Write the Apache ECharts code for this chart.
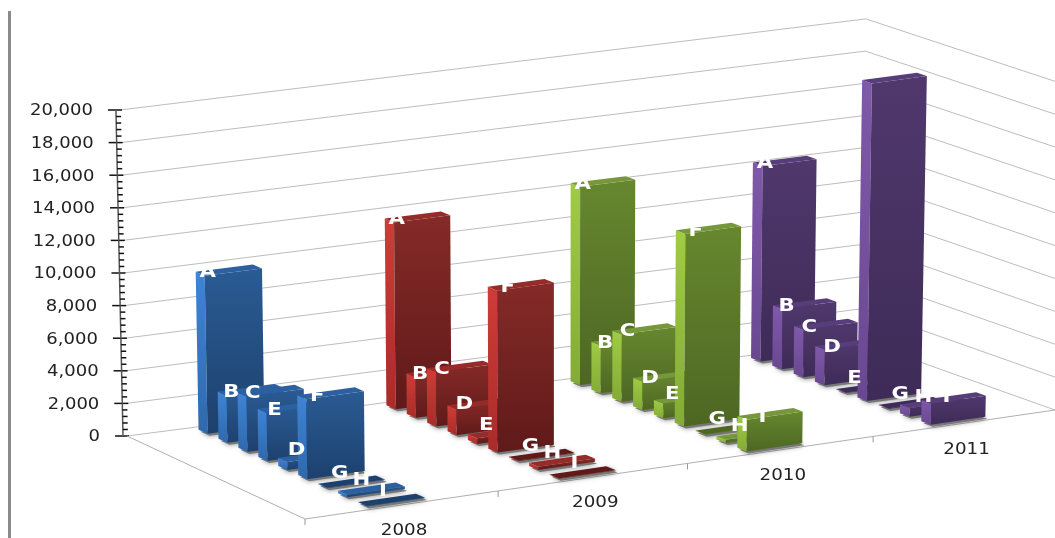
<!DOCTYPE html>
<html>
<head>
<meta charset="utf-8" />
<title>ECharts</title>
<script src="https://cdn.jsdelivr.net/npm/echarts@6/dist/echarts.min.js"></script>
<style>html,body{margin:0;padding:0;background:#fff}#main{width:1055px;height:538px}</style>
</head>
<body>
<div id="main"></div>
<script>
const years = ['2008', '2009', '2010', '2011'];
const yTicks = [0, 2000, 4000, 6000, 8000, 10000, 12000, 14000, 16000, 18000, 20000];
// labels, back row to front row (the tall 2011 F has no letter showing)
const labels2008 = ['A', 'B', 'C', 'E', 'D', 'F', 'G', 'H', 'I'];
const labels2009 = ['A', 'B', 'C', 'D', 'E', 'F', 'G', 'H', 'I'];
const labels2010 = ['A', 'B', 'C', 'D', 'E', 'F', 'G', 'H', 'I'];
const labels2011 = ['A', 'B', 'C', 'D', 'E', '', 'G', 'H', 'I'];
const values2008 = [9700, 2900, 3400, 2950, 500, 4900, 30, 150, 20];
const values2009 = [11500, 2500, 3350, 1600, 350, 9950, 40, 200, 20];
const values2010 = [12250, 2950, 4150, 1750, 900, 11850, 40, 200, 1950];
const values2011 = [12100, 3750, 2950, 2200, 40, 19550, 40, 550, 1300];

const allValues = [values2008, values2009, values2010, values2011];
const allLabels = [labels2008, labels2009, labels2010, labels2011];

const palette = [
    {front: ['#2a5b94', '#1d416e'], side: ['#3f84d6', '#2f69ad'], top: '#2c60a0'},
    {front: ['#852a28', '#5f1a19'], side: ['#cf3c38', '#a82c29'], top: '#962c2a'},
    {front: ['#67872f', '#4d6723'], side: ['#a0cb45', '#83ab36'], top: '#76983a'},
    {front: ['#50386d', '#3e2b57'], side: ['#8059aa', '#694891'], top: '#583d7b'}
];

// floor corners of the 3D box on screen
const backLeft = [127, 436], backRight = [861, 341], frontLeft = [305, 519], frontRight = [1055, 410];
const gridTop = 110, gridH = 326;
const leanCentre = 560, leanK = 5e-5;

// u: 0..1 along years, v: 0..1 back to front
function floor(u, v) {
    const s = u + 0.04 * u * (1 - u);
    const bx = backLeft[0] + (backRight[0] - backLeft[0]) * s, by = backLeft[1] + (backRight[1] - backLeft[1]) * s;
    const fx = frontLeft[0] + (frontRight[0] - frontLeft[0]) * s, fy = frontLeft[1] + (frontRight[1] - frontLeft[1]) * s;
    return [bx + (fx - bx) * v, by + (fy - by) * v];
}

// h: pixel height above the floor, a bit shorter towards the far corner
function project(u, v, h) {
    const p = floor(u, v);
    const hh = h * (1 - 0.012 * u * (1 - v));
    return [p[0] + (p[0] - leanCentre) * hh * leanK, p[1] - hh];
}
function heightOf(api, value) {
    return api.coord([0, 0])[1] - api.coord([0, value])[1];
}
function poly(points, fill, extra) {
    return Object.assign({type: 'polygon', shape: {points: points}, style: {fill: fill}}, extra || {});
}
function seg(a, b, stroke, width) {
    return {type: 'line', shape: {x1: a[0], y1: a[1], x2: b[0], y2: b[1]}, style: {stroke: stroke, lineWidth: width}};
}
function grad(c) {
    return new echarts.graphic.LinearGradient(0, 0, 0, 1, [{offset: 0, color: c[0]}, {offset: 1, color: c[1]}]);
}
function stretched(text, p, font, fill, align, sx) {
    return {type: 'text', x: p[0], y: p[1], scaleX: sx, style: {text: text, font: font, fill: fill, align: align, verticalAlign: 'middle'}};
}

const axisFont = '15px "DejaVu Sans"';

// walls, value axis
function renderWall(params, api) {
    const val = api.value(1), h = heightOf(api, val), gridColor = '#bdbdbd';
    const kids = [
        {type: 'polyline', shape: {points: [project(0, 0, h), project(1, 0, h), project(1, 1, h)]},
            style: {stroke: gridColor, lineWidth: 1, fill: null}}
    ];
    const at = project(0, 0, h);
    const ax = at[0] - 4;
    kids.push(seg([ax - 8, at[1]], [ax + 6, at[1]], '#111', 1.5));
    kids.push(stretched(val.toLocaleString('en-US'), [ax - 23, at[1] + 1.5], axisFont, '#222', 'right', 1.2));
    if (val > 0) {
        const low = project(0, 0, heightOf(api, val - 2000));
        kids.push(seg([ax, at[1]], [low[0] - 4, low[1]], '#555', 1.5));
        for (let m = 400; m < 2000; m += 400) {
            const p = project(0, 0, heightOf(api, val - m));
            kids.push(seg([p[0] - 4, p[1]], [p[0] + 1, p[1]], '#111', 1.5));
        }
    }
    return {type: 'group', children: kids};
}

// floor edges, year ticks and labels
function renderFloor(params, api) {
    const i = api.value(0), gridColor = '#b0b0b0';
    const a = project(i / 4, 1, 0), b = project((i + 1) / 4, 1, 0);
    const mid = project((i + 0.5) / 4, 1, 0);
    const kids = [seg(a, b, gridColor, 1), seg(a, [a[0], a[1] + 6], '#999', 1)];
    kids.push(stretched(years[i], [mid[0] + 2, mid[1] + 26.5], axisFont, '#222', 'center', 1.22));
    if (i === 0) kids.push(seg(project(0, 0, 0), project(0, 1, 0), gridColor, 1));
    return {type: 'group', children: kids};
}

function barGeom(api) {
    const i = api.value(0), r = api.value(2);
    const u0 = (i + 0.35) / 4, u1 = (i + 0.65) / 4;
    const v0 = (r + 0.25) / 9, v1 = (r + 0.7) / 9;
    const h = heightOf(api, api.value(1));
    return {i, r, u0, u1, v0, v1, h};
}

function renderBar(params, api) {
    const g = barGeom(api), c = palette[g.i];
    const fl = project(g.u0, g.v1, 0), fr = project(g.u1, g.v1, 0);
    const bl = project(g.u0, g.v0, 0);
    const tfl = project(g.u0, g.v1, g.h), tfr = project(g.u1, g.v1, g.h);
    const tbl = project(g.u0, g.v0, g.h), tbr = project(g.u1, g.v0, g.h);
    const shadow = [floor(g.u0, g.v1), floor(g.u1, g.v1), floor(g.u1, g.v0), floor(g.u0, g.v0)].map(p => [p[0] + 2, p[1] + 2]);
    // nearly flat bars read as the dark front colour
    const topFill = g.h < 2 ? c.front[1] : c.top;
    return {
        type: 'group',
        children: [
            poly(shadow, '#777', {style: {fill: '#777', shadowBlur: 5, shadowColor: 'rgba(0,0,0,0.5)'}}),
            poly([tbl, tfl, fl, bl], grad(c.side)),
            poly([tfl, tfr, fr, fl], grad(c.front)),
            poly([tbl, tbr, tfr, tfl], topFill)
        ]
    };
}

// labels sit higher above the short bars
function renderLabel(params, api) {
    const g = barGeom(api);
    const tbl = project(g.u0, g.v0, g.h);
    const lift = Math.max(0, 30 - g.h) * 0.4;
    return stretched(api.value(3), [tbl[0] + 12 + g.r * 1.6, tbl[1] + 1 - lift], 'bold 18px "DejaVu Sans"', '#fff', 'center', 1.18);
}

const barData = [];
for (let r = 0; r < 9; r++) {
    for (let i = 3; i >= 0; i--) {
        barData.push([i, allValues[i][r], r, allLabels[i][r]]);
    }
}
const wallData = yTicks.map(t => [0, t]);
const floorData = years.map((y, i) => [i, 0]);

const chart = echarts.init(document.getElementById('main'));
chart.setOption({
    animation: false,
    backgroundColor: '#fff',
    graphic: [{type: 'rect', shape: {x: 8, y: 11, width: 3, height: 527}, style: {fill: '#8a8a8a'}}],
    grid: {left: 127, top: gridTop, width: 928, height: gridH},
    xAxis: {type: 'category', data: years, show: false},
    yAxis: {type: 'value', min: 0, max: 20000, interval: 2000, show: false},
    series: [
        {type: 'custom', name: 'walls', z: 1, data: wallData, encode: {x: 0, y: 1}, renderItem: renderWall, silent: true},
        {type: 'custom', name: 'floor', z: 2, data: floorData, encode: {x: 0, y: 1}, renderItem: renderFloor, silent: true},
        {type: 'custom', name: 'bars', z: 3, data: barData, encode: {x: 0, y: 1}, renderItem: renderBar},
        {type: 'custom', name: 'labels', z: 4, data: barData, encode: {x: 0, y: 1}, renderItem: renderLabel, silent: true}
    ]
});
</script>
</body>
</html>
